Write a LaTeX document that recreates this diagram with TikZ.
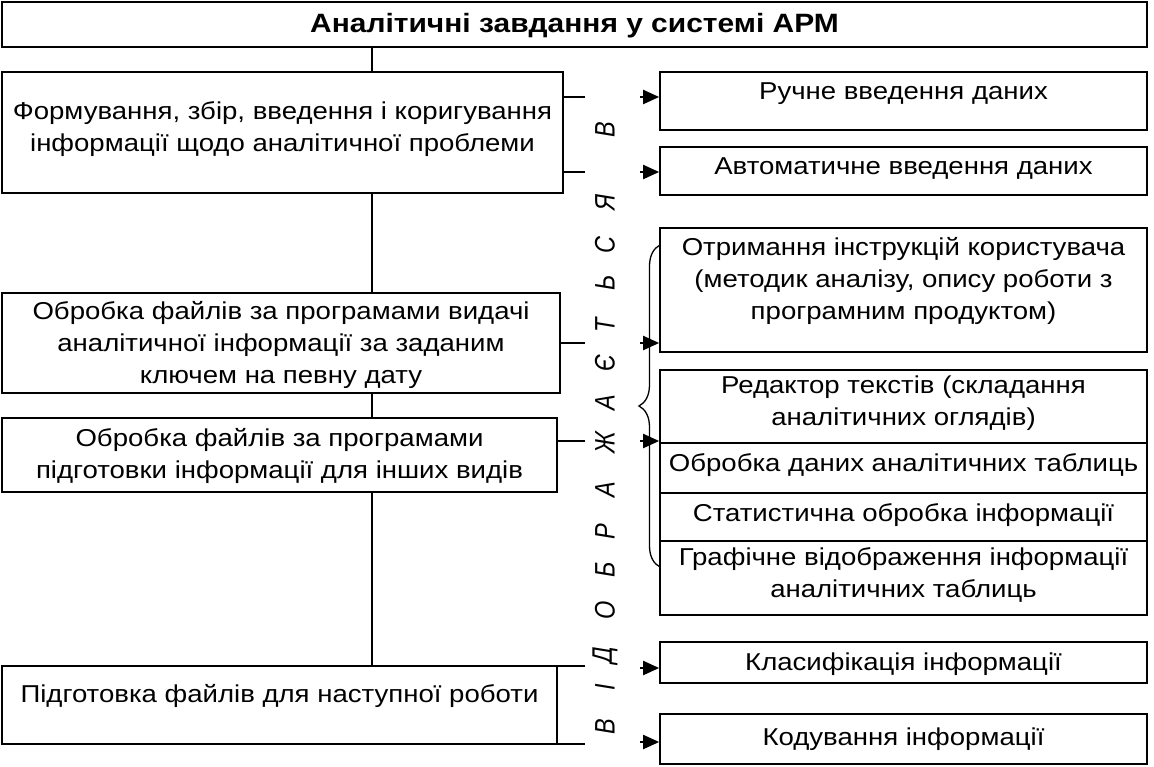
\documentclass[tikz,border=0pt]{standalone}
\usepackage{fontspec}
\setmainfont{Liberation Sans}[FakeStretch=1.13]
\newfontfamily\vfont{Liberation Sans}
\usetikzlibrary{arrows.meta,decorations.pathreplacing}
\newcommand\bxn[7]{%
  \node[box, minimum width={#4-#2}, minimum height={#5-#3}] (#1) at ({(#2+#4)/2},{(#3+#5)/2}) {};
  \node[txt] (#1t) at ({(#2+#4)/2},#6) {#7};}
\begin{document}
\begin{tikzpicture}[x=1pt,y=-1pt,
  box/.style={draw, line width=1.7pt, fill=white, inner sep=0pt},
  txt/.style={align=center, inner sep=0pt, yshift=-3pt, font=\fontsize{24.4}{32}\selectfont},
  stub/.style={line width=2.6pt},
  arr/.style={line width=2pt, -{Triangle[length=16pt,width=14pt]}},
  trunk/.style={line width=1.3pt},
  vl/.style={rotate=90, inner sep=0pt, font=\vfont\fontsize{23.5}{23.5}\selectfont\itshape}]
\useasboundingbox (0,0) rectangle (1154,766);
\coordinate (tx) at (372,0);
% left column
\bxn{title}{2}{2}{1147}{47}{23}{\fontsize{26.5}{30}\selectfont\bfseries Аналітичні завдання у системі АРМ}
\bxn{b1}{2}{72}{563}{193}{126}{Формування, збір, введення і коригування\\інформації щодо аналітичної проблеми}
\bxn{b2}{2}{293}{560}{393}{342}{Обробка файлів за програмами видачі\\аналітичної інформації за заданим\\ключем на певну дату}
\bxn{b3}{2}{418}{557}{492}{453}{Обробка файлів за програмами\\підготовки інформації для інших видів}
\bxn{b4}{2}{666}{557}{744}{693}{Підготовка файлів для наступної роботи}
% right column
\bxn{r1}{660}{72}{1147}{130}{91}{Ручне введення даних}
\bxn{r2}{660}{147}{1147}{195}{166}{Автоматичне введення даних}
\bxn{r3}{660}{228}{1147}{352}{278}{Отримання інструкцій користувача\\(методик аналізу, опису роботи з\\програмним продуктом)}
\bxn{c1}{660}{370}{1147}{443}{400}{Редактор текстів (складання\\аналітичних оглядів)}
\bxn{c2}{660}{443}{1147}{493}{462}{Обробка даних аналітичних таблиць}
\bxn{c3}{660}{493}{1147}{541}{512}{Статистична обробка інформації}
\bxn{c4}{660}{541}{1147}{615}{572}{Графічне відображення інформації\\аналітичних таблиць}
\bxn{r5}{660}{642}{1147}{683}{661}{Класифікація інформації}
\bxn{r6}{660}{714}{1147}{764}{736}{Кодування інформації}
% trunk
\draw[trunk] (title.south -| tx) -- (b1.north -| tx);
\draw[trunk] (b1.south -| tx) -- (b2.north -| tx);
\draw[trunk] (b2.south -| tx) -- (b3.north -| tx);
\draw[trunk] (b3.south -| tx) -- (b4.north -| tx);
% stubs
\foreach \n/\b/\y in {1/b1/97, 2/b1/172, 3/b2/343, 4/b3/441, 5/b4/666, 6/b4/744}{
  \coordinate (s\n) at (585,\y);
  \draw[stub] (\b.east |- s\n) -- (s\n);
}
% arrows
\foreach \n/\r/\y in {1/r1/97, 2/r2/172, 3/r3/343, 4/c1/441, 5/r5/668, 6/r6/742}{
  \coordinate (a\n) at (640,\y);
  \draw[arr] (a\n) -- (\r.west |- a\n);
}
% brace
\coordinate (brb) at (660,567);
\coordinate (brt) at (660,245);
\draw[line width=1.3pt, decorate, decoration={brace, amplitude=21pt}] (brb) -- (brt);
% vertical text
\foreach \l/\y [count=\i] in {В/727, І/687, Д/655, О/610, Б/570, Р/532, А/490, Ж/443, А/403, Є/363, Т/325, Ь/283, С/245, Я/202, В/130}{
  \node[vl] (v\i) at (605,\y) {\scalebox{1}[1.2]{\l}};
}
\end{tikzpicture}
\end{document}
